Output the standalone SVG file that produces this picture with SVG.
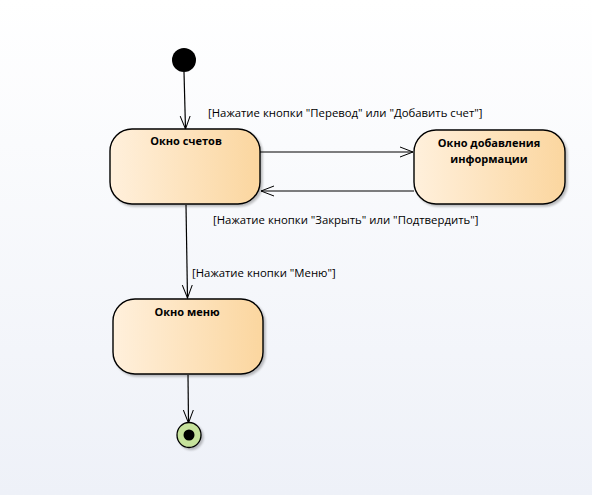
<svg xmlns="http://www.w3.org/2000/svg" width="592" height="495" viewBox="0 0 592 495">
  <defs>
    <linearGradient id="bg" x1="0" y1="0" x2="0" y2="1">
      <stop offset="0" stop-color="#ffffff"/>
      <stop offset="1" stop-color="#eef1f8"/>
    </linearGradient>
    <linearGradient id="stateFill" x1="0" y1="0" x2="1" y2="0">
      <stop offset="0" stop-color="#fff0dc"/>
      <stop offset="1" stop-color="#fbd69f"/>
    </linearGradient>
    <filter id="shadow" x="-20%" y="-20%" width="140%" height="140%">
      <feGaussianBlur in="SourceAlpha" stdDeviation="1.2"/>
      <feOffset dx="2" dy="2" result="b"/>
      <feComponentTransfer><feFuncA type="linear" slope="0.25"/></feComponentTransfer>
      <feMerge><feMergeNode/><feMergeNode in="SourceGraphic"/></feMerge>
    </filter>
    <marker id="open" viewBox="0 0 14 12" refX="13" refY="6" markerWidth="14" markerHeight="12" markerUnits="userSpaceOnUse" orient="auto">
      <path d="M0,1 L13,6 L0,11" fill="none" stroke="#000" stroke-width="1"/>
    </marker>
  </defs>
  <style>
    .state { fill: url(#stateFill); stroke: #000; stroke-width: 1.4; filter: url(#shadow); }
    .title { font-family: "Open Sans", "Noto Sans", "DejaVu Sans", sans-serif; font-size: 11px; font-weight: bold; text-anchor: middle; fill: #000; }
    .guard { font-family: "Open Sans", "Noto Sans", "DejaVu Sans", sans-serif; font-size: 11.35px; fill: #000; }
    .edge { fill: none; stroke: #000; stroke-width: 1.2; marker-end: url(#open); }
  </style>

  <rect x="0" y="0" width="592" height="495" fill="url(#bg)"/>

  <g id="connectors">
    <line class="edge" x1="184" y1="72" x2="185.5" y2="129"/>
    <line class="edge" x1="260" y1="152" x2="413" y2="152"/>
    <line class="edge" x1="414" y1="191" x2="261" y2="191"/>
    <line class="edge" x1="186" y1="205" x2="187.5" y2="298"/>
    <line class="edge" x1="188" y1="375" x2="188.5" y2="423"/>
    <text class="guard" x="208" y="117">[Нажатие кнопки "Перевод" или "Добавить счет"]</text>
    <text class="guard" x="213" y="224">[Нажатие кнопки "Закрыть" или "Подтвердить"]</text>
    <text class="guard" x="192" y="277">[Нажатие кнопки "Меню"]</text>
  </g>

  <g id="initial">
    <circle cx="184" cy="60" r="12" fill="#000"/>
  </g>

  <g id="accounts">
    <rect class="state" x="110" y="129" width="150" height="75" rx="22" ry="22"/>
    <text class="title" x="186" y="145">Окно счетов</text>
  </g>

  <g id="add-info">
    <rect class="state" x="414" y="130" width="151" height="74" rx="22" ry="22"/>
    <text class="title" x="489" y="147">Окно добавления</text>
    <text class="title" x="489" y="163">информации</text>
  </g>

  <g id="menu">
    <rect class="state" x="113" y="299" width="150" height="75" rx="22" ry="22"/>
    <text class="title" x="187" y="316">Окно меню</text>
  </g>

  <g id="final" filter="url(#shadow)">
    <ellipse cx="189" cy="435" rx="12" ry="12.5" fill="#c6e29c" stroke="#000" stroke-width="1.3"/>
    <circle cx="189" cy="435" r="5.5" fill="#000"/>
  </g>
</svg>
